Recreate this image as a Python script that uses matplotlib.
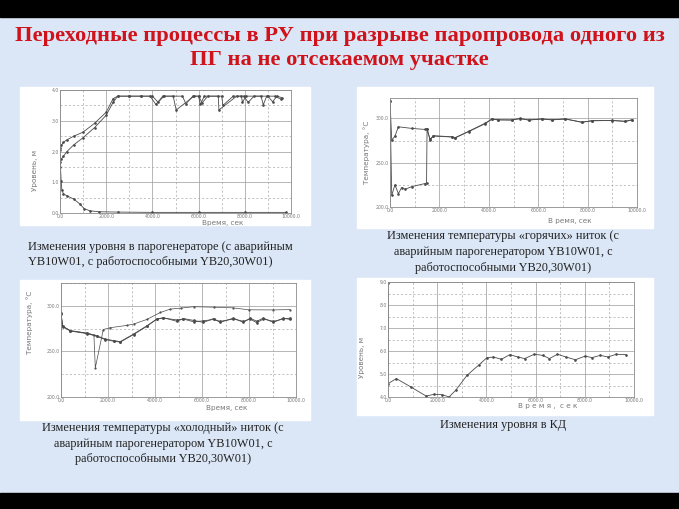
import numpy as np
import matplotlib
matplotlib.use('agg')
import matplotlib.pyplot as plt
from matplotlib.patches import Rectangle
from matplotlib.ticker import MultipleLocator, FormatStrFormatter

## slide texts
title = ("Переходные процессы в РУ при разрыве паропровода одного из\n"
         "ПГ на не отсекаемом участке")
cap1 = ("Изменения уровня в парогенераторе (с аварийным\n"
        "YB10W01, с работоспособными YB20,30W01)")
cap2 = ("Изменения температуры «горячих» ниток (с\n"
        "аварийным парогенератором YB10W01, с\n"
        "работоспособными YB20,30W01)")
cap3 = ("Изменения температуры «холодный» ниток (с\n"
        "аварийным парогенератором YB10W01, с\n"
        "работоспособными YB20,30W01)")
cap4 = "Изменения уровня в КД"

## level in steam generators (m)
sg_a_t = [0, 60, 150, 300, 600, 1000, 1500, 2000, 2300, 2500, 3000, 3500, 3900, 4150, 4450,
          4900, 5030, 5800, 6000, 6070, 6250, 6850, 6880, 7650, 7850, 7900, 8050, 8700, 8800,
          8950, 9300, 9570]
sg_a_y = [2.05, 2.2, 2.3, 2.38, 2.5, 2.63, 2.92, 3.28, 3.72, 3.8, 3.8, 3.8, 3.8, 3.53, 3.8,
          3.8, 3.35, 3.8, 3.8, 3.53, 3.8, 3.8, 3.35, 3.8, 3.8, 3.6, 3.8, 3.8, 3.52,
          3.8, 3.8, 3.7]
sg_b_t = [0, 60, 150, 300, 600, 1000, 1500, 2000, 2300, 2500, 3000, 3500, 4000, 4250, 4500,
          5300, 5450, 5750, 6000, 6150, 6400, 7000, 7050, 7500, 7950, 8150, 8400, 9000, 9200,
          9400, 9600]
sg_b_y = [1.65, 1.75, 1.85, 2.0, 2.22, 2.45, 2.78, 3.18, 3.6, 3.8, 3.8, 3.8, 3.8, 3.6, 3.8,
          3.8, 3.55, 3.8, 3.8, 3.58, 3.8, 3.8, 3.5, 3.8, 3.8, 3.6, 3.8, 3.8, 3.62,
          3.8, 3.75]
sg_c_t = [0, 20, 50, 80, 150, 300, 600, 850, 1050, 1300, 1700, 2500, 4000, 6000, 8000, 9800]
sg_c_y = [2.1, 1.5, 1.05, 0.75, 0.62, 0.56, 0.45, 0.3, 0.14, 0.07, 0.04, 0.03, 0.02, 0.02,
          0.02, 0.02]

## hot legs temperature (C)
hot_t = [0, 70, 200, 340, 880, 1420, 1490, 1620, 1760, 2500, 2640, 3180, 3850, 4120, 4390,
         4930, 5270, 5610, 6150, 6550, 7100, 7770, 8180, 8990, 9530, 9800]
hot_y = [320, 275.5, 280, 290.5, 288.7, 287.5, 288.5, 276, 280, 279, 278, 285, 294, 299,
         298.5, 298, 300, 298, 299.5, 298.2, 299.5, 295.5, 297.5, 297.5, 296.8, 298.5]
hot_dmg_t = [0, 70, 200, 340, 470, 610, 880, 1420, 1480, 1500, 1620, 1760, 2500, 2640, 3180,
             3850, 4120, 4390, 4930, 5270, 5610, 6150, 6550, 7100, 7770, 8180, 8990, 9530, 9800]
hot_dmg_y = [320, 213, 225, 215, 222, 220, 223, 226.5, 227, 288.5, 276.5, 280.5, 279.2, 278.3,
             285.4, 294.5, 299.3, 298.2, 298.4, 299.6, 298.3, 299.2, 298.5, 299.2, 295.8, 297.2,
             297.8, 296.5, 298.2]

## cold legs temperature (C)
cold_t = [0, 70, 400, 1100, 1530, 1880, 2240, 2520, 3090, 3650, 4080, 4360, 4930, 5210, 5640,
          6060, 6490, 6770, 7340, 7760, 8050, 8330, 8610, 9040, 9460, 9750]
cold_a_y = [292, 277.6, 272.7, 270, 267, 263.6, 261.8, 260.7, 269, 278, 285.5, 287, 283, 286,
            284, 281.8, 286, 281.8, 286.5, 281.8, 286.5, 283, 286.5, 281.8, 286.5, 285]
cold_b_y = [291, 277.2, 272.3, 269.6, 266.5, 263, 261.2, 260.2, 268.5, 277.5, 285.5, 286.5,
            284.5, 285.5, 282.5, 283.5, 285, 283, 285.5, 283, 285.5, 281.5, 285.5, 283, 285.5,
            286.5]
cold_dmg_t = [0, 70, 400, 1100, 1400, 1460, 1800, 2100, 2800, 3090, 3650, 4230, 4650, 5100,
              5640, 6500, 7300, 8000, 9000, 9750]
cold_dmg_y = [292, 277.6, 272.7, 270, 268, 232, 274, 276, 278.5, 280, 285, 292.7, 296.4,
              297.5, 299, 298.5, 297.8, 295.6, 295.5, 295.8]

## pressurizer level (m)
kd_t = [0, 0, 340, 940, 1550, 1880, 2210, 2480, 2750, 3210, 3680, 4010, 4280, 4610, 4950,
        5280, 5550, 5950, 6290, 6560, 6890, 7230, 7620, 8020, 8290, 8620, 8950, 9280, 9680]
kd_y = [8.95, 4.58, 4.8, 4.43, 4.04, 4.12, 4.1, 4.0, 4.29, 4.94, 5.38, 5.7, 5.74, 5.64, 5.84,
        5.74, 5.67, 5.86, 5.81, 5.67, 5.86, 5.74, 5.62, 5.78, 5.71, 5.81, 5.74, 5.86, 5.84]

W, H = 679, 509
BG = '#dbe7f6'


def box(l, t, r, b):
    # pixel box (from top-left) -> figure fraction
    return [l / W, 1 - b / H, (r - l) / W, (b - t) / H]


def fx(x):
    return x / W


def fy(y):
    return 1 - y / H


fig = plt.figure(figsize=(W / 100, H / 100), dpi=100, facecolor=BG)

# black bars top/bottom
fig.add_artist(Rectangle((0, fy(17)), 1, 17 / H, transform=fig.transFigure,
                         color='black', zorder=0))
fig.add_artist(Rectangle((0, 0), 1, (H - 493) / H, transform=fig.transFigure,
                         color='black', zorder=0))

# white panels behind the charts
for l, t, r, b in [(20, 87, 310, 225), (357, 87, 653, 228),
                   (20, 280, 310, 420), (357, 278, 653, 415)]:
    fig.add_artist(Rectangle((fx(l), fy(b)), (r - l) / W, (b - t) / H,
                             transform=fig.transFigure, color='white', zorder=0))

fig.text(0.5, fy(48), title, ha='center', va='center', color='#d0121b',
         family='Liberation Serif', weight='bold', fontsize=16.2, linespacing=1.22)

capfont = dict(family='Liberation Serif', fontsize=8.8, color='#222222')
fig.text(fx(28), fy(254.5), cap1, ha='left', va='center', linespacing=1.36, **capfont)
fig.text(fx(503), fy(252), cap2, ha='center', va='center', multialignment='center',
         linespacing=1.42, **capfont)
fig.text(fx(163), fy(443.5), cap3, ha='center', va='center', multialignment='center',
         linespacing=1.44, **capfont)
fig.text(fx(503), fy(425), cap4, ha='center', va='center', **capfont)

LINE = dict(color='#4a4a4a', lw=0.6, marker='o', ms=0.9)


def setup(ax, ymin, ymax, ymaj, ymin_step):
    ax.set_xlim(0, 10000)
    ax.set_ylim(ymin, ymax)
    ax.xaxis.set_major_locator(MultipleLocator(2000))
    ax.xaxis.set_minor_locator(MultipleLocator(1000))
    ax.yaxis.set_major_locator(MultipleLocator(ymaj))
    ax.yaxis.set_minor_locator(MultipleLocator(ymin_step))
    ax.xaxis.set_major_formatter(FormatStrFormatter('%.1f'))
    ax.yaxis.set_major_formatter(FormatStrFormatter('%.1f'))
    ax.grid(True, which='major', color='#9a9a9a', lw=0.5, ls='-')
    ax.grid(True, which='minor', color='#a8a8a8', lw=0.5, ls=(0, (3, 3)))
    ax.tick_params(which='both', length=0, labelsize=3.3, labelcolor='#777777', pad=1.0)
    for s in ax.spines.values():
        s.set_color('#8a8a8a')
        s.set_linewidth(0.6)
    ax.set_facecolor('white')


label = dict(fontsize=5.2, color='#777777', family='DejaVu Sans')

# 1 - level in steam generators
ax1 = fig.add_axes(box(60, 90, 291, 213))
setup(ax1, 0, 4, 1, 0.5)
ax1.plot(sg_a_t, sg_a_y, **LINE)
ax1.plot(sg_b_t, sg_b_y, **LINE)
ax1.plot(sg_c_t, sg_c_y, **LINE)
fig.text(fx(35), fy(170), 'Уровень, м', rotation=90, ha='center', va='center', **label)
fig.text(fx(223), fy(222.5), 'Время, сек', ha='center', va='center', **label)

# 2 - hot legs temperature
ax2 = fig.add_axes(box(390, 98, 637, 207))
setup(ax2, 200, 323, 50, 25)
ax2.plot(hot_t, hot_y, **LINE)
ax2.plot(hot_dmg_t, hot_dmg_y, **LINE)
fig.text(fx(367), fy(152), 'Температура, °С', rotation=90, ha='center', va='center', **label)
fig.text(fx(570), fy(221), 'В ремя, сек', ha='center', va='center', **label)

# 3 - cold legs temperature
ax3 = fig.add_axes(box(61, 283, 296, 397))
setup(ax3, 200, 325, 50, 25)
ax3.plot(cold_t, cold_a_y, **LINE)
ax3.plot(cold_t, cold_b_y, **LINE)
ax3.plot(cold_dmg_t, cold_dmg_y, **dict(LINE, lw=0.5, ms=0.6))
fig.text(fx(30), fy(322), 'Температура, °С', rotation=90, ha='center', va='center', **label)
fig.text(fx(227), fy(408), 'Время, сек', ha='center', va='center', **label)

# 4 - pressurizer level
ax4 = fig.add_axes(box(388, 282, 634, 397))
setup(ax4, 4, 9, 1, 0.5)
ax4.plot(kd_t, kd_y, **LINE)
fig.text(fx(362), fy(357), 'Уровень, м', rotation=90, ha='center', va='center', **label)
fig.text(fx(548), fy(406), 'В р е м я ,  с е к', ha='center', va='center', **label)

plt.savefig('out.png', dpi=100, facecolor=BG)
